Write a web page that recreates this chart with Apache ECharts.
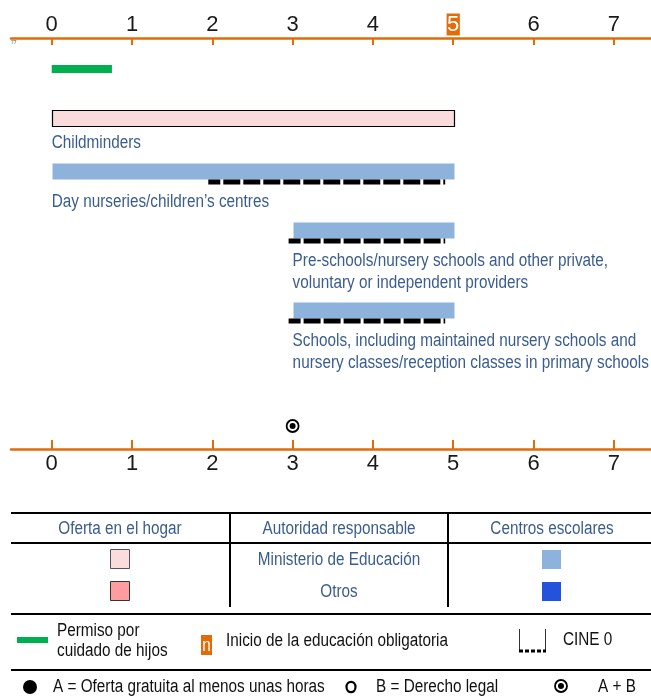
<!DOCTYPE html>
<html>
<head>
<meta charset="utf-8">
<script src="https://cdn.jsdelivr.net/npm/echarts@6/dist/echarts.min.js"></script>
<style>
html, body { margin: 0; padding: 0; background: #fff; }
#chart { width: 651px; height: 698px; }
</style>
</head>
<body>
<div id="chart"></div>
<script>
// ages on the axis, and the age where compulsory schooling starts
var ages = [0, 1, 2, 3, 4, 5, 6, 7];
var compulsoryAge = 5;

// childcare leave (green)
var leaveRange = [0, 0.75];

// settings
var settingNames = [
  'Childminders',
  'Day nurseries/children\u2019s centres',
  'Pre-schools/nursery schools and other private,\nvoluntary or independent providers',
  'Schools, including maintained nursery schools and\nnursery classes/reception classes in primary schools'
];
var settingStart = [0, 0, 3, 3];
var settingEnd = [5, 5, 5, 5];
var settingKind = ['home', 'centre', 'centre', 'centre'];
// CINE 0 (ISCED 0) span
var cineStart = [null, 1.95, 2.95, 2.95];
var cineEnd = [null, 4.9, 4.9, 4.9];

// A + B marker
var freeAndLegalAge = [3];

// legend table
var tableHeaders = ['Oferta en el hogar', 'Autoridad responsable', 'Centros escolares'];
var authorities = ['Ministerio de Educación', 'Otros'];

var FONT = "'Liberation Sans', Arial, sans-serif";
var NARROW = 0.85; // squeeze to look like Arial Narrow
var BLUE_TXT = '#3A5D8E';
var ORANGE = '#E36C0A';
var fill = { home: '#FBDCDD', centre: '#8DB3DD' };

// vertical lanes (hidden y axis, px from top axis)
var laneLeave = 31;
var laneSettings = [80, 133, 192, 272];
var laneMarker = 388;

var chart = echarts.init(document.getElementById('chart'));

function axisLabel(margin) {
  return {
    customValues: ages,
    margin: margin,
    color: '#1a1a1a',
    fontFamily: FONT,
    fontSize: 22,
    lineHeight: 25,
    formatter: function (v) { return '{n|' + v + '}'; },
    rich: { n: { fontFamily: FONT, fontSize: 22, lineHeight: 25, color: '#1a1a1a' } }
  };
}

var topLabel = axisLabel(1);
topLabel.formatter = function (v) { return v === compulsoryAge ? '{hl|' + v + '}' : '{n|' + v + '}'; };
topLabel.rich.hl = { fontFamily: FONT, fontSize: 22, lineHeight: 25, color: '#fff', backgroundColor: ORANGE, padding: [0, 0.5, 0, 0.5] };

var option = {
  animation: false,
  grid: { left: 11, right: 0, top: 38, bottom: 249 },
  xAxis: [{
    type: 'value', position: 'top', min: -0.507, max: 7.463,
    axisLine: { show: true, lineStyle: { color: ORANGE, width: 2.5 } },
    axisTick: { show: true, inside: true, length: 7, customValues: ages, lineStyle: { color: ORANGE, width: 2 } },
    axisLabel: topLabel,
    splitLine: { show: false }
  }, {
    type: 'value', position: 'bottom', min: -0.507, max: 7.463,
    axisLine: { show: true, lineStyle: { color: ORANGE, width: 2.5 } },
    axisTick: { show: true, inside: true, length: 9, customValues: ages, lineStyle: { color: ORANGE, width: 2 } },
    axisLabel: axisLabel(2),
    splitLine: { show: false }
  }],
  yAxis: { type: 'value', min: 0, max: 411, inverse: true, show: false },
  series: [{
    type: 'custom', name: 'leave', clip: false,
    data: [[leaveRange[0], leaveRange[1], laneLeave]],
    renderItem: function (params, api) {
      var s = api.coord([api.value(0), api.value(2)]);
      var e = api.coord([api.value(1), api.value(2)]);
      return { type: 'rect', shape: { x: s[0], y: s[1] - 4, width: e[0] - s[0], height: 8 }, style: { fill: '#00B050' } };
    }
  }, {
    type: 'custom', name: 'settings', clip: false,
    data: settingNames.map(function (n, i) {
      return [settingStart[i], settingEnd[i], laneSettings[i], i, cineStart[i] == null ? -1 : cineStart[i], cineEnd[i] == null ? -1 : cineEnd[i]];
    }),
    renderItem: function (params, api) {
      var i = api.value(3);
      var y = api.value(2);
      var s = api.coord([api.value(0), y]);
      var e = api.coord([api.value(1), y]);
      var h = 16;
      var kids = [];
      var home = settingKind[i] === 'home';
      kids.push({
        type: 'rect',
        shape: { x: Math.round(s[0]) + 0.5, y: Math.round(s[1] - h / 2) + 0.5, width: Math.round(e[0] - s[0]), height: h },
        style: { fill: fill[settingKind[i]], stroke: home ? '#000' : null, lineWidth: home ? 1.2 : 0 }
      });
      var cs = api.value(4);
      if (cs >= 0) {
        var a = api.coord([cs, y]);
        var b = api.coord([api.value(5), y]);
        kids.push({
          type: 'line',
          shape: { x1: a[0], y1: s[1] + 11, x2: b[0], y2: s[1] + 11 },
          style: { stroke: '#000', lineWidth: 5, lineDash: [17, 3], lineDashOffset: 5, lineCap: 'butt' }
        });
      }
      kids.push({
        type: 'text',
        x: s[0], y: s[1] + h / 2 + (cs >= 0 ? 12 : 6),
        scaleX: NARROW,
        style: {
          text: settingNames[i], x: 0, y: 0,
          font: '18px ' + FONT, fill: BLUE_TXT, lineHeight: 22,
          align: 'left', verticalAlign: 'top'
        }
      });
      return { type: 'group', children: kids };
    }
  }, {
    type: 'custom', name: 'A + B', clip: false,
    data: freeAndLegalAge.map(function (a) { return [a, laneMarker]; }),
    renderItem: function (params, api) {
      var p = api.coord([api.value(0), api.value(1)]);
      return { type: 'group', children: [
        { type: 'circle', shape: { cx: p[0], cy: p[1], r: 6 }, style: { fill: '#fff', stroke: '#000', lineWidth: 1.8 } },
        { type: 'circle', shape: { cx: p[0], cy: p[1], r: 3 }, style: { fill: '#000' } }
      ] };
    }
  }],
  graphic: buildLegend()
};

function hline(y, w) {
  return { type: 'line', shape: { x1: 11, y1: y, x2: 651, y2: y }, style: { stroke: '#000', lineWidth: w || 2 } };
}
function vline(x, y1, y2) {
  return { type: 'line', shape: { x1: x, y1: y1, x2: x, y2: y2 }, style: { stroke: '#000', lineWidth: 2 } };
}
function txt(t, x, y, align, color) {
  return {
    type: 'text', x: x, y: y, scaleX: NARROW,
    style: { text: t, x: 0, y: 0, font: '18px ' + FONT, fill: color || '#111', align: align || 'left', verticalAlign: 'middle', textAlign: align || 'left', textVerticalAlign: 'middle' }
  };
}
function box(x, y, w, h, f, stroke) {
  return { type: 'rect', shape: { x: x, y: y, width: w, height: h }, style: { fill: f, stroke: stroke || null, lineWidth: stroke ? 1 : 0 } };
}

function buildLegend() {
  var els = [];
  els.push({ type: 'text', x: 11, y: 40, style: { text: '77', font: '5px ' + FONT, fill: '#555' } });
  // table
  els.push(hline(513), hline(543), hline(614), hline(670));
  els.push(vline(230, 513, 607), vline(448, 513, 607));
  els.push(txt(tableHeaders[0], 120, 529, 'center', BLUE_TXT));
  els.push(txt(tableHeaders[1], 339, 529, 'center', BLUE_TXT));
  els.push(txt(tableHeaders[2], 552, 529, 'center', BLUE_TXT));
  els.push(txt(authorities[0], 339, 560, 'center', BLUE_TXT));
  els.push(txt(authorities[1], 339, 592, 'center', BLUE_TXT));
  els.push(box(110.5, 549.5, 19, 19, '#FBDCDD', '#555'));
  els.push(box(110.5, 581.5, 19, 19, '#FF9CA0', '#333'));
  els.push(box(542, 550, 19, 19, '#8DB3DD'));
  els.push(box(542, 582, 19, 19, '#2352DB'));
  // legend row
  els.push(box(17, 637, 31, 6, '#00B050'));
  els.push(txt('Permiso por', 57, 631));
  els.push(txt('cuidado de hijos', 57, 651));
  els.push(box(201, 635, 11, 20, ORANGE));
  els.push(txt('n', 206.5, 646, 'center', '#fff'));
  els.push(txt('Inicio de la educación obligatoria', 226, 641));
  els.push({ type: 'line', shape: { x1: 519.5, y1: 629, x2: 519.5, y2: 651 }, style: { stroke: '#333', lineWidth: 1 } });
  els.push({ type: 'line', shape: { x1: 545.5, y1: 629, x2: 545.5, y2: 651 }, style: { stroke: '#333', lineWidth: 1 } });
  els.push({ type: 'line', shape: { x1: 519, y1: 651, x2: 546, y2: 651 }, style: { stroke: '#000', lineWidth: 3, lineDash: [4, 2] } });
  els.push(txt('CINE 0', 563, 640));
  // bottom row
  els.push({ type: 'circle', shape: { cx: 30, cy: 687, r: 7 }, style: { fill: '#000' } });
  els.push(txt('A = Oferta gratuita al menos unas horas', 53, 687));
  els.push({ type: 'ellipse', shape: { cx: 351, cy: 687, rx: 4.5, ry: 5.2 }, style: { fill: '#fff', stroke: '#000', lineWidth: 2.2 } });
  els.push(txt('B = Derecho legal', 376, 687));
  els.push({ type: 'circle', shape: { cx: 561, cy: 686, r: 6 }, style: { fill: '#fff', stroke: '#000', lineWidth: 1.8 } });
  els.push({ type: 'circle', shape: { cx: 561, cy: 686, r: 3 }, style: { fill: '#000' } });
  els.push(txt('A + B', 598, 687));
  return els;
}

chart.setOption(option);
</script>
</body>
</html>
